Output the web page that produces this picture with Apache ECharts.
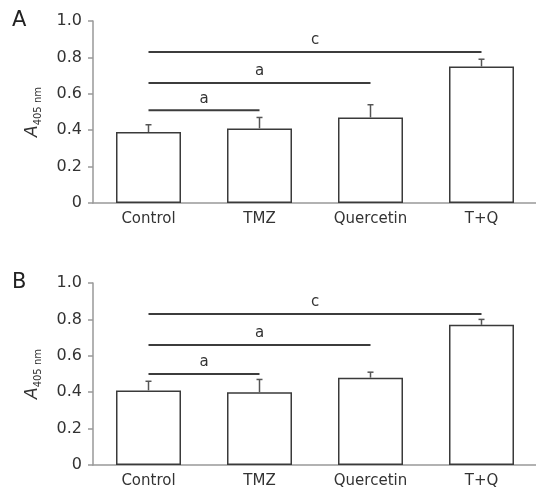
<!DOCTYPE html>
<html><head><meta charset="utf-8">
<script src="https://cdn.jsdelivr.net/npm/echarts@6/dist/echarts.min.js"></script>
<style>html,body{margin:0;padding:0;background:#fff}#c{width:536px;height:493px}</style>
</head><body><div id="c"></div>
<script>
// ---- data ----
const categories = ['Control', 'TMZ', 'Quercetin', 'T+Q'];
const panelLabels = ['A', 'B'];
const yMin = 0, yMax = 1.0, yStep = 0.2;
const meanA  = [0.39, 0.41, 0.47, 0.75];
const upperA = [0.43, 0.47, 0.54, 0.79];
const meanB  = [0.41, 0.40, 0.48, 0.77];
const upperB = [0.46, 0.47, 0.51, 0.80];
const sigFrom = [0, 0, 0];
const sigTo = [1, 2, 3];
const sigLabels = ['a', 'a', 'c'];
const sigYA = [0.51, 0.66, 0.83];
const sigYB = [0.50, 0.66, 0.83];

// ---- chart ----
const FONT = 'DejaVu Sans';
const panels = [
  { mean: meanA, upper: upperA, sigY: sigYA },
  { mean: meanB, upper: upperB, sigY: sigYB }
];
const gridTops = [21, 283];

function errRender(params, api) {
  const x = api.value(0), m = api.value(1), u = api.value(2);
  const p0 = api.coord([x, m]), p1 = api.coord([x, u]);
  const hw = 3;
  const st = { stroke: '#555', lineWidth: 1.5 };
  return { type: 'group', children: [
    { type: 'line', shape: { x1: p0[0], y1: p0[1], x2: p1[0], y2: p1[1] }, style: st },
    { type: 'line', shape: { x1: p1[0] - hw, y1: p1[1], x2: p1[0] + hw, y2: p1[1] }, style: st }
  ]};
}
function sigRender(params, api) {
  const a = api.coord([api.value(0), api.value(2)]);
  const b = api.coord([api.value(1), api.value(2)]);
  return { type: 'group', children: [
    { type: 'line', shape: { x1: a[0], y1: a[1], x2: b[0], y2: b[1] }, style: { stroke: '#3c3c3c', lineWidth: 2 } },
    { type: 'text', x: (a[0] + b[0]) / 2, y: a[1] - 4,
      style: { text: sigLabels[params.dataIndex], fill: '#333', fontSize: 15, fontFamily: FONT,
               align: 'center', verticalAlign: 'bottom' } }
  ]};
}

const grid = [], xAxis = [], yAxis = [], series = [], title = [];
panels.forEach((p, i) => {
  grid.push({ left: 93, width: 444, top: gridTops[i], height: 182, outerBoundsMode: 'none', containLabel: false });
  title.push({ text: panelLabels[i], left: 12, top: gridTops[i] - 11, padding: 0,
    textStyle: { fontFamily: FONT, fontSize: 21, fontWeight: 'normal', color: '#222' } });
  xAxis.push({
    type: 'category', gridIndex: i, data: categories,
    axisLine: { lineStyle: { color: '#999', width: 1.5 } },
    axisTick: { inside: true, length: 4, lineStyle: { color: '#999', width: 1.5 } },
    axisLabel: { fontFamily: FONT, fontSize: 15, color: '#333', margin: 9 }
  });
  yAxis.push({
    type: 'value', gridIndex: i, min: yMin, max: yMax, interval: yStep,
    name: '{a|A}{s|405 nm}', nameLocation: 'middle', nameRotate: 90, nameGap: 50,
    nameMoveOverlap: false,
    nameTextStyle: { fontFamily: FONT, color: '#333', rich: {
      a: { fontFamily: FONT, fontStyle: 'italic', fontSize: 17, color: '#333', lineHeight: 20 },
      s: { fontFamily: FONT, fontSize: 10, color: '#333', lineHeight: 11, verticalAlign: 'bottom' }
    }},
    axisLine: { show: true, lineStyle: { color: '#999', width: 1.5 } },
    axisTick: { show: true, length: 5, lineStyle: { color: '#999', width: 1.5 } },
    splitLine: { show: false },
    axisLabel: { fontFamily: FONT, fontSize: 16, color: '#333', margin: 11,
      formatter: v => (v === 0 ? '0' : v.toFixed(1)) }
  });
  series.push({
    type: 'bar', xAxisIndex: i, yAxisIndex: i, data: p.mean, barWidth: 65,
    itemStyle: { color: '#fff', borderColor: '#3a3a3a', borderWidth: 1.5 },
    silent: true
  });
  series.push({
    type: 'custom', xAxisIndex: i, yAxisIndex: i, renderItem: errRender,
    data: categories.map((c, k) => [k, p.mean[k], p.upper[k]]), silent: true, z: 3
  });
  series.push({
    type: 'custom', xAxisIndex: i, yAxisIndex: i, renderItem: sigRender,
    data: sigFrom.map((f, k) => [f, sigTo[k], p.sigY[k]]), silent: true, z: 4
  });
});

const chart = echarts.init(document.getElementById('c'), null, { renderer: 'canvas' });
chart.setOption({ animation: false, backgroundColor: '#fff', title, grid, xAxis, yAxis, series });
</script>
</body></html>
